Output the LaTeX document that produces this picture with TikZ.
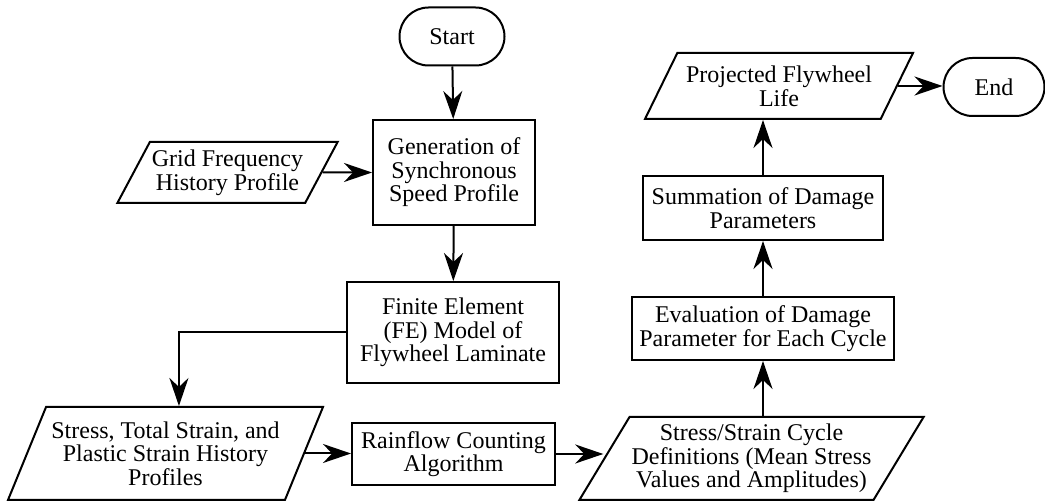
\documentclass[tikz,border=0pt]{standalone}
\usepackage{fontspec}
\setmainfont{Liberation Serif}
\newfontfamily\chartfont{Liberation Serif}
\usetikzlibrary{arrows.meta, shapes.geometric}
\tikzset{>={Stealth[length=14pt, width=9.5pt, inset=4.5pt]},
  terminal/.style={draw, line width=1pt, rounded corners=14.5pt,
    minimum height=29pt, inner sep=2pt},
  process/.style={draw, line width=1pt, align=center, inner sep=2pt},
  data/.style={trapezium, draw, line width=1pt, align=center,
    trapezium stretches body, inner sep=1pt},
  flow/.style={->, line width=1pt}
}

\begin{document}
\begin{tikzpicture}[x=0.5pt, y=-0.5pt, font=\chartfont\fontsize{12pt}{11.8pt}\selectfont]
\useasboundingbox (0,0) rectangle (1045,501);

% Draw the start and end terminals
\node[terminal, minimum width=52.5pt] (start) at (452,36.5) {Start};
\node[terminal, minimum width=50.5pt] (end) at (994,87) {End};

% Draw the left column of the flow chart
\node[data, minimum width=109.5pt, minimum height=30.5pt,
  trapezium left angle=56.7, trapezium right angle=123.3]
  (grid) at (227.5,172.5) {Grid Frequency\\History Profile};
\node[process, minimum width=81pt, minimum height=52.5pt]
  (gen) at (454,172.5) {Generation of\\Synchronous\\Speed Profile};
\node[process, minimum width=106pt, minimum height=50.5pt]
  (fe) at (453,332.5) {Finite Element\\(FE) Model of\\Flywheel Laminate};
\node[data, minimum width=157.5pt, minimum height=46.5pt,
  trapezium left angle=60.8, trapezium right angle=119.2]
  (stress) at (165.5,453.5) {Stress, Total Strain, and\\Plastic Strain History\\Profiles};
\node[process, minimum width=101.5pt, minimum height=31pt]
  (rain) at (453.5,454) {Rainflow Counting\\Algorithm};

% Draw the right column of the flow chart
\node[data, minimum width=169.5pt, minimum height=41.5pt,
  trapezium left angle=55.5, trapezium right angle=124.5]
  (cycle) at (751.5,458.5) {Stress/Strain Cycle\\Definitions (Mean Stress\\Values and Amplitudes)};
\node[process, minimum width=131pt, minimum height=31.5pt]
  (eval) at (763,328.5) {Evaluation of Damage\\Parameter for Each Cycle};
\node[process, minimum width=120pt, minimum height=32pt]
  (sum) at (763,208) {Summation of Damage\\Parameters};
\node[data, minimum width=134pt, minimum height=33pt,
  trapezium left angle=54, trapezium right angle=126]
  (proj) at (779,86) {Projected Flywheel\\Life};

% Connect the steps
\draw[flow] (start) -- (gen);
\draw[flow] (grid.east) -- (gen.west);
\draw[flow] (gen) -- (fe);
\draw[flow] (fe.west) -| ([xshift=-3pt]stress.top side);
\draw[flow] (stress.east) -- (stress.east -| rain.west);
\draw[flow] (rain.east) -- (rain.east -| cycle.west);
\draw[flow] (cycle.north -| eval.south) -- (eval.south);
\draw[flow] (eval) -- (sum);
\draw[flow] (sum.north) -- (proj.south -| sum.north);
\draw[flow] (proj.east) -- (proj.east -| end.west);

\end{tikzpicture}
\end{document}
